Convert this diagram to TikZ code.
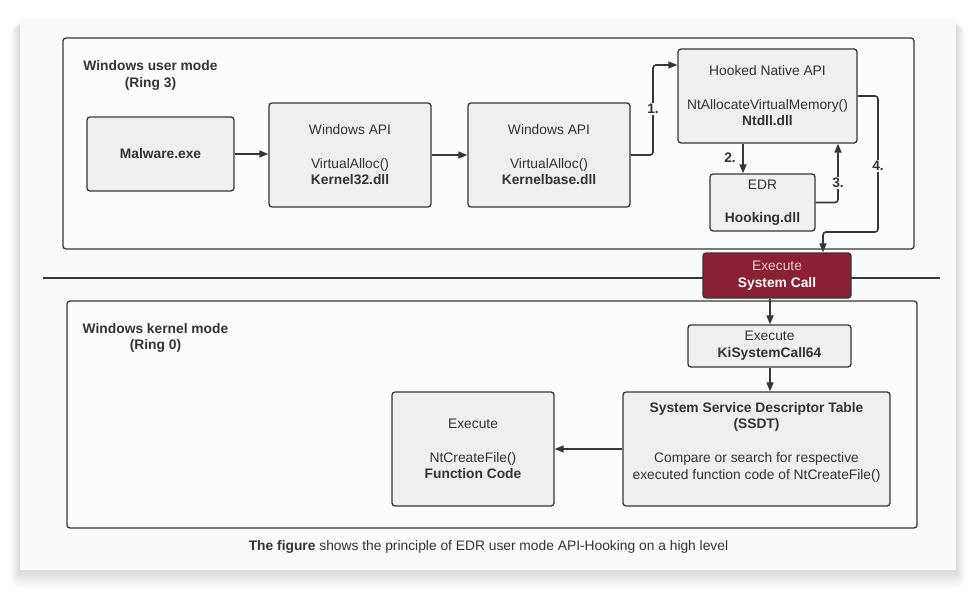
\documentclass[tikz,border=0pt]{standalone}
\usepackage{fontspec}
\setmainfont{Liberation Sans}
\usetikzlibrary{arrows.meta}
\definecolor{edgec}{HTML}{363636}
\definecolor{boxfill}{HTML}{EEEFF1}
\definecolor{cardfill}{HTML}{F9FAFC}
\definecolor{contfill}{HTML}{FBFCFD}
\definecolor{txtc}{HTML}{333333}
\definecolor{redfill}{HTML}{8A1F35}
\definecolor{pinktxt}{HTML}{EBCBD3}
\newcommand\mainfs{\fontsize{13.8}{16.7}\selectfont}
\tikzset{
  blk/.style={draw=edgec, fill=boxfill, rounded corners=3pt, line width=1.3pt,
    align=center, inner sep=0pt, text=txtc, font=\mainfs},
  cont/.style={draw=edgec, fill=contfill, rounded corners=3pt, line width=1.3pt},
  arr/.style={draw=edgec, line width=1.6pt, rounded corners=3pt,
    -{Triangle[length=9pt,width=7pt]}},
  steplbl/.style={font=\mainfs\bfseries, text=txtc, inner sep=1pt, fill=contfill},
  title/.style={font=\mainfs\bfseries, text=txtc, align=center, inner sep=0pt}
}
\begin{document}
\begin{tikzpicture}[x=1pt,y=-1pt]
\useasboundingbox (0,0) rectangle (976,591);
\fill[white] (0,0) rectangle (976,591);
% shadow
\foreach \i in {1,...,12}{
  \fill[black,opacity=0.011,rounded corners=\i pt] (20-0.8*\i,24) rectangle (956+0.8*\i,570+1.6*\i);
}
% card
\fill[cardfill] (20,19) rectangle (956,570);

% containers
\draw[cont] (63,38) rectangle (914,249);
\draw[cont] (67,301) rectangle (917,528);

\node[title] (utitle) at (150.5,75.5) {Windows user mode\\(Ring 3)};
\node[title] (ktitle) at (155.5,338) {Windows kernel mode\\(Ring 0)};

% separator line
\coordinate (sepL) at (43,278);
\coordinate (sepR) at (940,278);
\draw[edgec, line width=2.6pt] (sepL) -- (sepR);

% boxes
\node[blk, minimum width=147pt, minimum height=74pt] (mal) at (160.5,154) {\bfseries Malware.exe};
\node[blk, minimum width=162pt, minimum height=104pt] (api1) at (350,155)
  {Windows API\\[16.7pt]VirtualAlloc()\\\bfseries Kernel32.dll};
\node[blk, minimum width=162pt, minimum height=104pt] (api2) at (549,155)
  {Windows API\\[16.7pt]VirtualAlloc()\\\bfseries Kernelbase.dll};
\node[blk, minimum width=179pt, minimum height=94pt] (hook) at (767.5,96)
  {Hooked Native API\\[16.7pt]NtAllocateVirtualMemory()\\\bfseries Ntdll.dll};
\node[blk, minimum width=105pt, minimum height=57pt] (edr) at (762.5,202.5)
  {EDR\\[16.7pt]\bfseries Hooking.dll};
\node[blk, fill=redfill, minimum width=148pt, minimum height=45pt] (sys) at (777,275.5)
  {\textcolor{pinktxt}{Execute}\\\textcolor{white}{\bfseries System Call}};
\node[blk, minimum width=163pt, minimum height=42pt] (ki) at (769.5,346)
  {Execute\\\bfseries KiSystemCall64};
\node[blk, minimum width=267pt, minimum height=114pt] (ssdt) at (756.5,449)
  {\bfseries System Service Descriptor Table\\\bfseries (SSDT)\\[16.7pt]Compare or search for respective\\executed function code of NtCreateFile()\\\mbox{}};
\node[blk, minimum width=162pt, minimum height=114pt] (ntc) at (473,449)
  {Execute\\[16.7pt]NtCreateFile()\\\bfseries Function Code};

% connectors
\draw[arr] (mal.east) -- (api1.west |- mal.east);
\draw[arr] (api1.east) -- (api2.west);
\draw[arr] (api2.east) -- (653,155) -- (653,65) -- (hook.west |- 0,65);
\draw[arr] (743,0 |- hook.south) -- (743,0 |- edr.north);
\draw[arr] (edr.east) -- (838,202.5) -- (838,0 |- hook.south);
\draw[arr] (hook.east) -- (878,96) -- (878,232) -- (823,232) -- (823,0 |- sys.north);
\draw[arr] (770,0 |- sys.south) -- (770,0 |- ki.north);
\draw[arr] (770,0 |- ki.south) -- (770,0 |- ssdt.north);
\draw[arr] (ssdt.west) -- (ntc.east);

% step labels
\node[steplbl] (l1) at (653,109) {1.};
\node[steplbl, fill=none] (l2) at (730,158) {2.};
\node[steplbl] (l3) at (838,183) {3.};
\node[steplbl] (l4) at (878,166) {4.};

% caption
\node[font=\mainfs, text=txtc, inner sep=0pt] (cap) at (488.5,547)
  {\textbf{The figure} shows the principle of EDR user mode API-Hooking on a high level};
\end{tikzpicture}
\end{document}
